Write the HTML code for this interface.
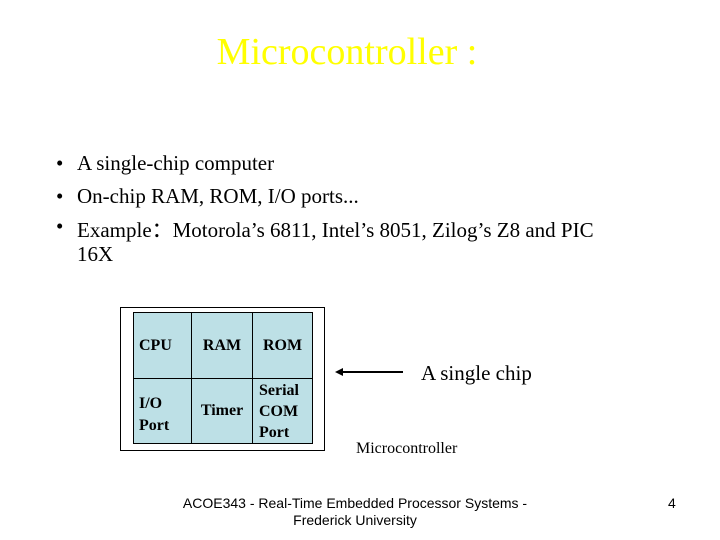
<!DOCTYPE html>
<html><head><meta charset="utf-8"><style>
body{margin:0;width:720px;height:540px;background:#fff;position:relative;overflow:hidden;font-family:"Liberation Serif",serif;}
.a{position:absolute;white-space:nowrap;}
h1{position:absolute;margin:0;left:0;width:694px;text-align:center;top:30px;font-weight:normal;font-size:38px;color:#ffff00;}
.b{font-size:21px;color:#000;}
table{position:absolute;left:133px;top:312px;width:180px;height:132px;border-collapse:collapse;background:#bde0e6;}
td{border:1px solid #000;font-weight:bold;font-size:16px;padding:0;vertical-align:middle;}
</style></head><body>
<h1>Microcontroller :</h1>
<div class="a b" style="left:56px;top:151px">•</div><div class="a b" style="left:77px;top:151px">A single-chip computer</div>
<div class="a b" style="left:56px;top:184px">•</div><div class="a b" style="left:77px;top:184px">On-chip RAM, ROM, I/O ports...</div>
<div class="a b" style="left:56px;top:214px">•</div><div class="a b" style="left:77px;top:214px">Example：Motorola’s 6811, Intel’s 8051, Zilog’s Z8 and PIC</div>
<div class="a b" style="left:77px;top:242px">16X</div>
<div class="a" style="left:120px;top:307px;width:203px;height:142px;border:1px solid #000;"></div>
<table>
<tr style="height:66px"><td style="width:52px;padding-left:5px">CPU</td><td style="width:60px;text-align:center">RAM</td><td style="padding-left:10px">ROM</td></tr>
<tr><td style="padding-left:5px;padding-top:8px;line-height:22px">I/O<br>Port</td><td style="text-align:center">Timer</td><td style="padding-left:6px;line-height:21px">Serial<br>COM<br>Port</td></tr>
</table>
<svg class="a" style="left:330px;top:362px" width="80" height="20"><line x1="10" y1="10" x2="73" y2="10" stroke="#000" stroke-width="2"/><polygon points="5,10 13,6 13,14" fill="#000"/></svg>
<div class="a" style="left:421px;top:361px;font-size:21px">A single chip</div>
<div class="a" style="left:356px;top:440px;font-size:16px">Microcontroller</div>
<div class="a" style="left:170px;top:495px;width:370px;text-align:center;font-family:'Liberation Sans',sans-serif;font-size:14px;line-height:17px">ACOE343 - Real-Time Embedded Processor Systems -<br>Frederick University</div>
<div class="a" style="left:668px;top:495px;font-family:'Liberation Sans',sans-serif;font-size:14px">4</div>
</body></html>
